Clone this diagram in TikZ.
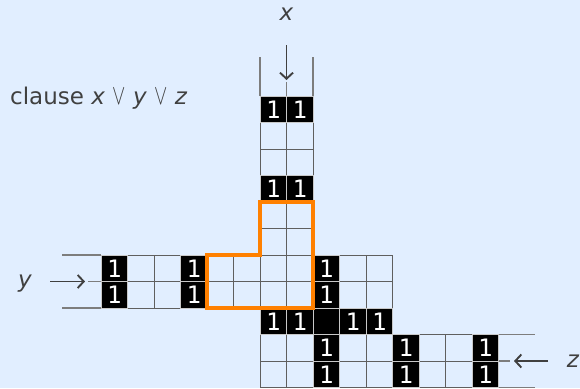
\documentclass[tikz,border=0pt]{standalone}
\usepackage{fontspec}
\usepackage{graphicx}
\setmainfont{DejaVu Sans}
\newfontfamily\monof{DejaVu Sans Mono}
\usetikzlibrary{arrows.meta}
\definecolor{bg}{RGB}{225,238,255}
\definecolor{gridc}{RGB}{95,95,95}
\definecolor{leadc}{RGB}{125,125,125}
\definecolor{ink}{RGB}{64,64,64}
\definecolor{hl}{RGB}{255,128,0}
\definecolor{sep}{RGB}{200,200,200}
\newcommand{\orv}{\scalebox{0.8}[1.15]{$\vee$}}
\tikzset{
  cellbase/.style={rectangle, minimum width=26.5pt, minimum height=26.5pt, inner sep=0pt, outer sep=0pt},
  emptycell/.style={cellbase, draw=gridc, line width=1pt},
  onecell/.style={cellbase, fill=black, draw=sep, line width=1pt, text=white, font=\monof\fontsize{24}{24}\selectfont},
  lead/.style={draw=leadc, line width=1.2pt},
  inarrow/.style={draw=ink, line width=1.9pt, -{Straight Barb[length=6pt,width=13pt,line width=1.9pt]}},
  lbl/.style={text=ink, inner sep=0pt, font=\fontsize{23}{27}\selectfont},
  hlbox/.style={draw=hl, line width=3.2pt, line join=miter}
}
\begin{document}
\begin{tikzpicture}[x=1pt,y=-1pt]
\fill[bg] (0,0) rectangle (580,388);
\useasboundingbox (0,0) rectangle (580,388);
% empty cells
\foreach \k/\r in {6/1,7/1,6/2,7/2,6/4,7/4,6/5,7/5,
  1/6,2/6,4/6,5/6,6/6,7/6,9/6,10/6,
  1/7,2/7,4/7,5/7,6/7,7/7,9/7,10/7,
  6/9,7/9,9/9,10/9,12/9,13/9,
  6/10,7/10,9/10,10/10,12/10,13/10}
  \node[emptycell] (e\k r\r) at ({114.25+26.5*\k},{109.25+26.5*\r}) {};
% cells with 1
\foreach \k/\r in {6/0,7/0,6/3,7/3,
  0/6,3/6,8/6,0/7,3/7,8/7,
  6/8,7/8,9/8,10/8,
  8/9,11/9,14/9,8/10,11/10,14/10}
  \node[onecell] (b\k r\r) at ({114.25+26.5*\k},{109.25+26.5*\r}) {1};
% blank black cell
\node[onecell] (b8r8) at ({114.25+26.5*8},{109.25+26.5*8}) {};
% lead coordinates
\coordinate (xtl) at (260,57);
\coordinate (xtr) at (313,57);
\coordinate (xtm) at (286.5,82);
\coordinate (xat) at (286.5,80);
\coordinate (xas) at (286.5,45);
\coordinate (ylt) at (62,255);
\coordinate (ylb) at (62,308);
\coordinate (ylm) at (88,281.5);
\coordinate (yat) at (85,281.5);
\coordinate (yas) at (50,281.5);
\coordinate (zrt) at (535,334.5);
\coordinate (zrb) at (535,387.5);
\coordinate (zrm) at (510,361);
\coordinate (zas) at (548,361);
\coordinate (zat) at (514,361);
% x leads
\draw[lead] (b6r0.north west) -- (xtl);
\draw[lead] (b7r0.north east) -- (xtr);
\draw[lead] (b6r0.north east) -- (xtm);
\draw[inarrow] (xas) -- (xat);
% y leads
\draw[lead] (b0r6.north west) -- (ylt);
\draw[lead] (b0r7.south west) -- (ylb);
\draw[lead] (b0r6.south west) -- (ylm);
\draw[inarrow] (yas) -- (yat);
% z leads
\draw[lead] (b14r9.north east) -- (zrt);
\draw[lead] (b14r10.south east) -- (zrb);
\draw[lead] (b14r9.south east) -- (zrm);
\draw[inarrow] (zas) -- (zat);
% highlight
\draw[hlbox] (e6r4.north west) -- (e7r4.north east) -- (e7r7.south east)
  -- (e4r7.south west) -- (e4r6.north west) -- (e6r6.north west) -- cycle;
% labels
\node[lbl, anchor=base west] (cl) at (10,104) {clause \textit{x} \orv{} \textit{y} \orv{} \textit{z}};
\node[lbl, anchor=base] (lx) at (286.5,20) {\textit{x}};
\node[lbl, anchor=base] (ly) at (25,287) {\textit{y}};
\node[lbl, anchor=base] (lz) at (573,367) {\textit{z}};
\end{tikzpicture}
\end{document}
